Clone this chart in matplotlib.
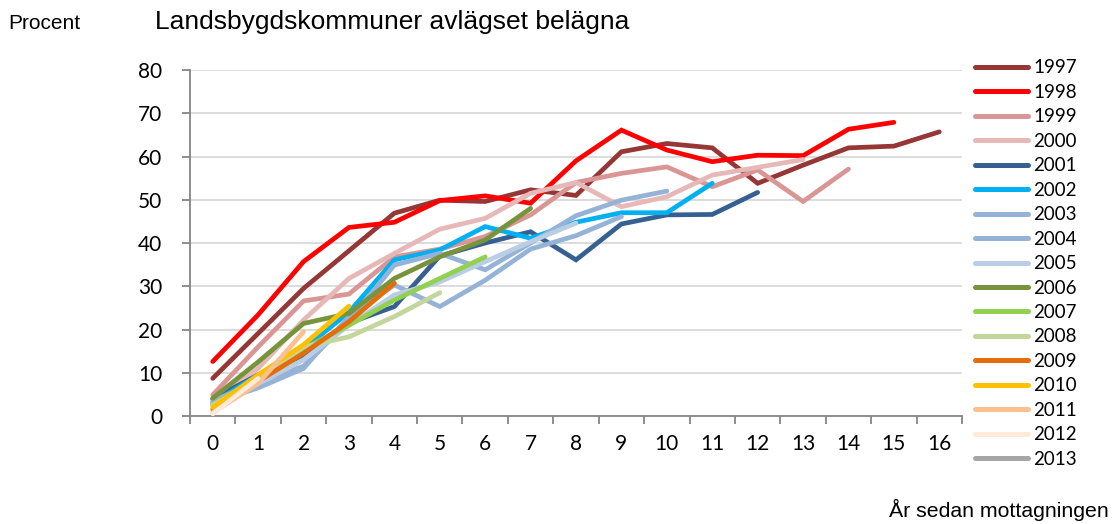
import matplotlib
matplotlib.use('Agg')
import matplotlib.pyplot as plt
from matplotlib.ticker import MultipleLocator, FixedLocator

years = ['1997', '1998', '1999', '2000', '2001', '2002', '2003', '2004', '2005',
         '2006', '2007', '2008', '2009', '2010', '2011', '2012', '2013']

colors = ['#953735', '#FF0000', '#D99694', '#E6B9B8', '#376092', '#00B0F0',
          '#95B3D7', '#95B3D7', '#B9CDE5', '#77933C', '#92D050', '#C3D69B',
          '#E46C0A', '#FFC000', '#FAC090', '#FDEADA', '#A6A6A6']

# share (percent) by years since reception, one list per cohort
v1997 = [8.7, 19.1, 29.5, 38.2, 46.9, 49.9, 49.6, 52.3, 51.0, 61.1, 63.0, 62.0, 53.8, 58.0, 62.0, 62.4, 65.7]
v1998 = [12.6, 23.4, 35.7, 43.6, 44.8, 49.8, 50.9, 49.2, 59.0, 66.1, 61.5, 58.8, 60.3, 60.2, 66.3, 67.9]
v1999 = [4.9, 16.0, 26.6, 28.2, 36.8, 38.6, 41.5, 46.5, 54.0, 56.1, 57.6, 53.0, 56.9, 49.6, 57.1]
v2000 = [3.5, 11.0, 22.2, 31.8, 37.6, 43.2, 45.7, 51.5, 54.0, 48.4, 50.7, 55.7, 57.5, 59.3]
v2001 = [4.0, 9.5, 14.0, 21.5, 25.3, 37.0, 40.0, 42.6, 36.1, 44.4, 46.5, 46.6, 51.7]
v2002 = [3.0, 9.5, 15.5, 24.0, 36.1, 38.4, 43.8, 41.1, 44.8, 47.0, 47.0, 53.8]
v2003 = [3.5, 8.0, 11.5, 22.0, 34.9, 37.6, 33.8, 40.0, 46.3, 49.9, 52.0]
v2004 = [3.0, 6.5, 11.0, 23.0, 30.3, 25.3, 31.4, 38.6, 41.7, 46.1]
v2005 = [2.5, 7.5, 13.0, 21.0, 28.0, 31.0, 35.7, 40.3, 44.6]
v2006 = [4.1, 12.5, 21.4, 23.7, 31.8, 36.8, 40.7, 48.0]
v2007 = [2.5, 9.0, 15.5, 21.0, 26.8, 31.8, 36.8]
v2008 = [2.5, 8.5, 16.0, 18.3, 23.0, 28.5]
v2009 = [1.5, 8.0, 14.5, 21.8, 30.7]
v2010 = [2.0, 9.5, 16.5, 25.4]
v2011 = [0.8, 7.5, 19.5]
v2012 = [0.5, 8.7]
v2013 = [0.3]

series = [v1997, v1998, v1999, v2000, v2001, v2002, v2003, v2004, v2005,
          v2006, v2007, v2008, v2009, v2010, v2011, v2012, v2013]

plt.rcParams['font.family'] = ['Lato', 'DejaVu Sans']

fig = plt.figure(figsize=(11.12, 5.24), dpi=100)
ax = fig.add_axes([0.1709, 0.2061, 0.6942, 0.6603])

for i, (yr, vals, c) in enumerate(zip(years, series, colors)):
    ax.plot(range(len(vals)), vals, color=c, lw=3.4, solid_capstyle='round',
            solid_joinstyle='miter', label=yr, zorder=3 + i)

ax.set_xlim(-0.5, 16.5)
ax.set_ylim(0, 80)
ax.yaxis.set_major_locator(MultipleLocator(10))
ax.xaxis.set_major_locator(FixedLocator(range(17)))
ax.xaxis.set_minor_locator(FixedLocator([k - 0.5 for k in range(18)]))
ax.grid(axis='y', color='#D9D9D9', lw=1.3, zorder=0)
ax.set_axisbelow(True)

for s in ['top', 'right']:
    ax.spines[s].set_visible(False)
for s in ['left', 'bottom']:
    ax.spines[s].set_color('#868686')
    ax.spines[s].set_linewidth(1.3)

ax.tick_params(axis='y', length=6, width=1.3, color='#868686', labelsize=15, pad=14)
ax.tick_params(axis='x', which='major', length=0, labelsize=15, pad=13)
ax.tick_params(axis='x', which='minor', length=6, width=1.3, color='#868686')

leg = ax.legend(loc='upper left', bbox_to_anchor=(0.870, 0.901), bbox_transform=fig.transFigure,
                frameon=False, fontsize=13.5, handlelength=2.83, handletextpad=0.28,
                labelspacing=0.398, borderaxespad=0)
for h in leg.get_lines():
    h.set_linewidth(3.6)
    h.set_solid_capstyle('round')

fig.text(0.007, 0.956, 'Procent', family='Liberation Sans', fontsize=15, va='center', ha='left')
fig.text(0.139, 0.958, 'Landsbygdskommuner avlägset belägna', family='Liberation Sans',
         fontsize=19, va='center', ha='left')
fig.text(0.997, 0.027, 'År sedan mottagningen', family='Liberation Sans', fontsize=15.3,
         va='center', ha='right')

fig.savefig('out.png', dpi=100)
